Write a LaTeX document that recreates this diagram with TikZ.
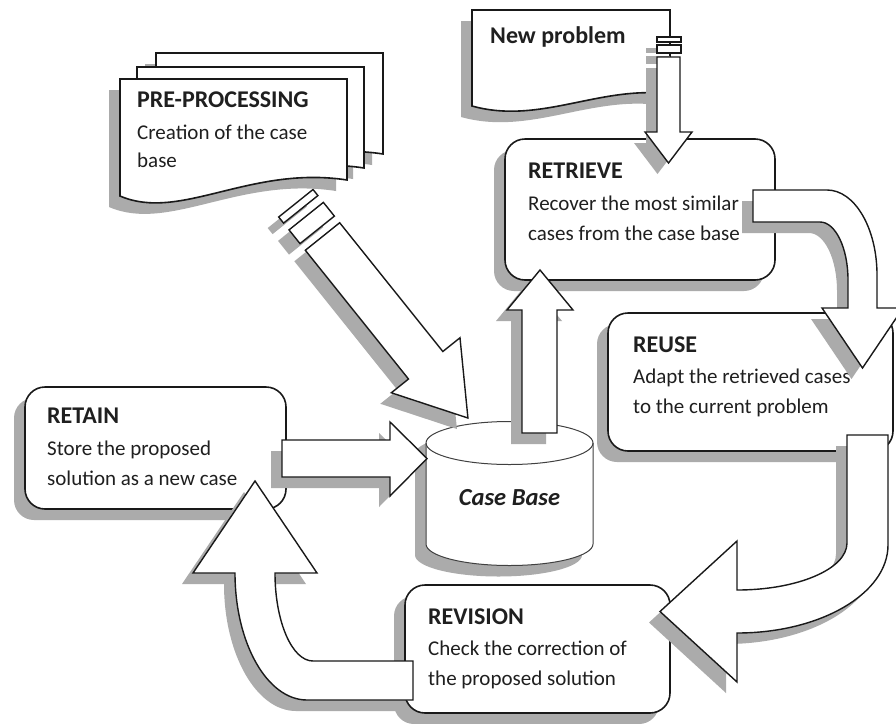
\documentclass[tikz,border=0pt]{standalone}
\usepackage{fontspec}
\setmainfont{Carlito}
\usetikzlibrary{shadows}

\tikzset{
  grayshadow/.style={drop shadow={shadow xshift=-11pt, shadow yshift=-11pt, fill=black!33, opacity=1}},
  stepbox/.style={draw=black!90, line width=1.6pt, rounded corners=20pt, fill=white, inner sep=0pt, grayshadow},
  docpage/.style={draw=black!90, line width=1.6pt, fill=white, grayshadow},
  blockarrow/.style={draw=black!90, line width=1.4pt, fill=white, line join=miter, grayshadow},
  boxtext/.style={anchor=base west, inner sep=0pt, align=left, text=black!88, font=\fontsize{21}{30}\selectfont},
}
\newcommand{\boxhead}[1]{{\fontsize{24}{30}\selectfont\bfseries #1}}

\begin{document}
\begin{tikzpicture}[x=1pt, y=-1pt]
			%%%%% START %%%%%
			\fill[white] (0,0) rectangle (896,723);
			\useasboundingbox (0,0) rectangle (896,723);
			
			% pre-processing stack
			\draw[docpage, shift={(36,-26)}] (120,79) -- (347,79) -- (347,180) .. controls (250,165) and (180,222) .. (120,196) -- cycle;
			\draw[docpage, shift={(17,-12)}] (120,79) -- (347,79) -- (347,180) .. controls (250,165) and (180,222) .. (120,196) -- cycle;
			\draw[docpage] (120,79) -- (347,79) -- (347,180) .. controls (250,165) and (180,222) .. (120,196) -- cycle;
			\node[boxtext, font=\fontsize{21}{28}\selectfont] (preproc) at (137,167) {\boxhead{PRE-PROCESSING}\\[4pt]Creation of the case\\base};
			
			% new problem
			\draw[docpage] (472,10) -- (670,10) -- (670,94) .. controls (600,85) and (540,125) .. (472,106) -- cycle;
			\node[boxtext] (newprob) at (490,43) {\boxhead{New problem}};
			
			% the four steps
			\node[stepbox, minimum width=270pt, minimum height=141pt] (retrieve) at (640,209.5) {};
			\node[boxtext] (retrievetext) at (528,240) {\boxhead{RETRIEVE}\\[2pt]Recover the most similar\\cases from the case base};
			
			\node[stepbox, minimum width=285pt, minimum height=138pt] (reuse) at (750.5,382) {};
			\node[boxtext] (reusetext) at (633,413) {\boxhead{REUSE}\\[1pt]Adapt the retrieved cases\\to the current problem};
			
			\node[stepbox, minimum width=261pt, minimum height=122pt] (retain) at (155.5,448) {};
			\node[boxtext] (retaintext) at (47,485) {\boxhead{RETAIN}\\[2pt]Store the proposed\\solution as a new case};
			
			\node[stepbox, minimum width=265pt, minimum height=128pt] (revision) at (537.5,649) {};
			\node[boxtext] (revisiontext) at (428,685) {\boxhead{REVISION}\\[1pt]Check the correction of\\the proposed solution};
			
			% case base
			\draw[line width=1pt, draw=black!75, fill=white, grayshadow] (426,443) -- (426,544) arc (180:0:83.5 and 21.5) -- (593,443) arc (0:-180:83.5 and 21.5) -- cycle;
			\draw[line width=1pt, draw=black!75] (426,443) arc (180:0:83.5 and 21.5);
			\node[font=\fontsize{24.5}{28}\selectfont\bfseries\itshape, text=black!88] (casebase) at (509.5,497.5) {Case Base};
			
			% arrows
			\draw[blockarrow] (657,37) rectangle (681,42);
			\draw[blockarrow] (657,45) rectangle (681,53);
			\draw[blockarrow] (657,57) -- (657,132) -- (645,132) -- (668.5,163) -- (692,132) -- (680,132) -- (680,57) -- cycle;
			
			\begin{scope}[shift={(322.5,236.5)}, rotate=-51.3]
				\draw[blockarrow] (-42.6,-22) rectangle (-34.8,22);
				\draw[blockarrow] (-26.1,-22) rectangle (-8.5,22);
				\draw[blockarrow] (0,-22) -- (165,-22) -- (165,-44) -- (232.6,0) -- (165,44) -- (165,22) -- (0,22) -- cycle;
			\end{scope}
			
			\draw[blockarrow] (522,433) -- (522,310) -- (507,310) -- (540,270) -- (573,310) -- (557,310) -- (557,433) -- cycle;
			
			\draw[blockarrow] (753,190) -- (827,190) arc (-90:0:50 and 85) -- (877,308) -- (903,308) -- (862.5,368) -- (822,308) -- (848,308) -- (848,280) arc (0:-90:28 and 58) -- (753,222) -- cycle;
			
			\draw[blockarrow] (847,435) -- (888,435) -- (888,545) arc (0:90:151 and 88) -- (737,682) -- (660,611.5) -- (737,541) -- (737,590) arc (90:0:110 and 47) -- cycle;
			
			\draw[blockarrow] (413,661) -- (313,661) arc (90:180:38 and 88) -- (317,573) -- (255,481) -- (193,573) -- (235,573) arc (180:90:72 and 127) -- (413,700) -- cycle;
			
			\draw[blockarrow] (282,440) -- (390,440) -- (390,422) -- (427,458.5) -- (390,496) -- (390,477) -- (282,477) -- cycle;
			%%%%% END %%%%%
\end{tikzpicture}
\end{document}
